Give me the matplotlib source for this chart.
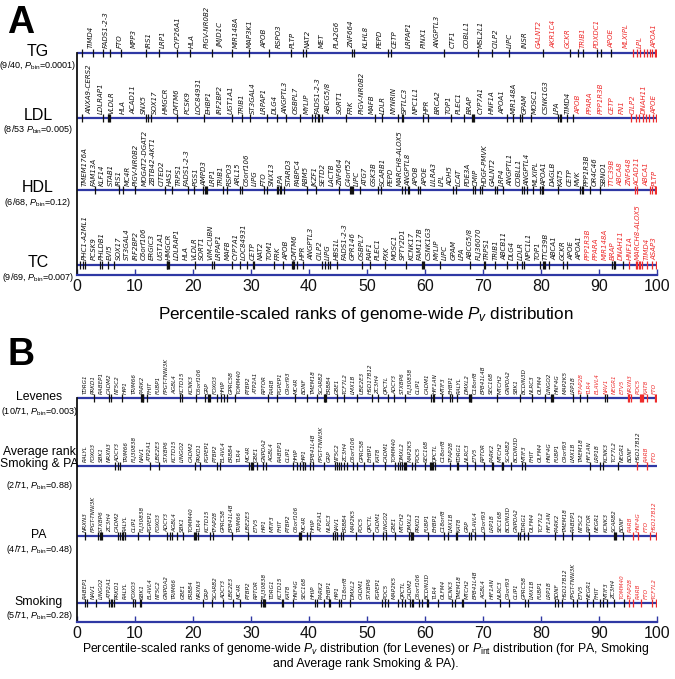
import matplotlib
matplotlib.use('Agg')
import matplotlib.pyplot as plt
import numpy as np

plt.rcParams['mathtext.fontset'] = 'custom'
plt.rcParams['mathtext.rm'] = 'Liberation Sans'
plt.rcParams['mathtext.it'] = 'Liberation Sans:italic'

# ---------------- DATA ----------------
tg_genes = ["TIMD4", "FADS1-2-3", "FTO", "MPP3", "IRS1", "LRP1", "CYP26A1", "HLA", "PIGV-NR0B2", "JMJD1C",
            "MIR148A", "MAP3K1", "APOB", "RSPO3", "PLTP", "NAT2", "MET", "PLA2G6", "ZNF664", "KLHL8",
            "PEPD", "CETP", "LRPAP1", "PINX1", "ANGPTL3", "CTF1", "COBLL1", "MSL2L1", "CILP2", "LIPC",
            "INSR", "GALNT2", "AKR1C4", "GCKR", "TRIB1", "PDXDC1", "APOE", "MLXIPL", "LPL", "APOA1"]
tg_ranks = [0.8, 2.7, 4.5, 5.7, 7.5, 11.9, 14.2, 17.3, 19.4, 23.2, 26.8, 29.7, 33.1, 36.9, 39.0, 39.4,
            47.4, 47.7, 53.7, 54.1, 63.2, 69.2, 71.5, 74.4, 80.3, 85.0, 86.3, 87.3, 89.7, 90.3, 92.0,
            95.9, 96.5, 97.1, 97.7, 98.2, 98.8, 99.2, 99.6, 99.9]

ldl_genes = ["ANXA9-CERS2", "LDLRAP1", "VLDLR", "HLA", "ACAD11", "SNX5", "SOX17", "HMGCR", "CMTM6", "PCSK9",
             "LOC84931", "EHBP1", "IRF2BP2", "UGT1A1", "TRIB1", "ST3GAL4", "LRPAP1", "DLG4", "ANGPTL3", "OSBPL7",
             "MYLIP", "FADS1-2-3", "ABCG5/8", "SORT1", "FRK", "PIGV-NR0B2", "MAFB", "LDLR", "NYNRIN", "SPTLC3",
             "NPC1L1", "HPR", "BRCA2", "TOP1", "PLEC1", "BRAP", "CYP7A1", "HNF1A", "APOA1", "MIR148A",
             "GPAM", "MOSC1", "CSNK1G3", "LPA", "TIMD4", "APOB", "PPARA", "PPP1R3B", "CETP", "FN1",
             "CILP2", "DNAH11", "APOE"]
ldl_ranks = [0.8, 4.4, 5.3, 5.5, 5.7, 11.9, 12.3, 12.8, 17.3, 21.9, 26.8, 28.5, 29.8, 32.8, 34.4, 36.0,
             38.4, 40.6, 41.1, 41.5, 41.8, 42.2, 46.4, 51.3, 52.6, 55.3, 56.0, 56.2, 59.6, 60.6, 64.4,
             66.8, 68.1, 68.2, 68.4, 74.1, 75.1, 76.4, 76.7, 78.3, 83.0, 83.3, 83.5, 84.5, 85.6,
             95.6, 96.3, 96.9, 97.5, 98.1, 98.7, 99.3, 99.8]

hdl_genes = ["TMEM176A", "FAM13A", "KLF14", "STAB1", "IRS1", "MC4R", "PIGV-NR0B2", "MOGAT2-DGAT2", "ZBTB42-AKT1",
             "CITED2", "HAS1", "TRPS1", "FADS1-2-3", "PGS1", "AMPD3", "LRP1", "TRIB1", "RSPO3", "ARL15",
             "C6orf106", "LIPG", "FTO", "SNX13", "LPA", "STARD3", "PABPC4", "RBM5", "IKZF1", "SETD2", "LACTB",
             "ZNF664", "C4orf52", "LIPC", "ATG7", "GSK3B", "SCARB1", "PEPD", "MARCH8-ALOX5", "ANGPTL8", "APOB",
             "APOE", "LILRA3", "LPL", "ADH5", "LCAT", "PDE3A", "CMIP", "HDGF-PMVK", "GALNT2", "LRP4",
             "ANGPTL1", "COBLL1", "ANGPTL4", "MLXIPL", "APOA1", "DAGLB", "KAT5", "CETP", "MVK", "PPP1R3B",
             "OR4C46", "SBNO1", "TTC39B", "ABCA8", "ZNF648", "ACAD11", "ABCA1", "PLTP"]
hdl_ranks = [3.1, 7.3, 7.9, 10.0, 15.2, 16.3, 19.2, 20.2, 21.8, 22.1, 22.2, 22.4, 25.2, 25.8, 28.1, 28.4,
             32.3, 32.7, 34.4, 34.7, 35.0, 35.2, 35.7, 39.7, 41.2, 45.1, 47.1, 47.2, 47.4, 47.6, 48.8,
             51.9, 52.4, 56.0, 56.6, 57.1, 57.3, 58.8, 59.1, 64.9, 65.3, 68.3, 68.6, 69.5, 69.8, 72.1,
             72.4, 73.5, 76.7, 77.0, 77.5, 78.7, 79.8, 80.1, 80.2, 80.4, 83.0, 86.7, 87.0, 87.3, 88.4, 90.2,
             96.2, 96.6, 98.8, 99.1, 99.7, 99.9]

tc_genes = ["PHC1-A2ML1", "PCSK9", "PHLDB1", "EVI5", "SOX17", "ST3GAL4", "IRF2BP2", "C6orf106", "ERGIC3",
            "UGT1A1", "HMGCR", "LDLRAP1", "HLA", "VLDLR", "SORT1", "VIM-CUBN", "LRPAP1", "MAFB", "CYP7A1",
            "LOC84931", "CETP", "NAT2", "TOM1", "FRK", "APOB", "CMTM6", "HPR", "ANGPTL3", "CILP2", "LIPG",
            "HBS1L", "FADS1-2-3", "GPR146", "OSBPL7", "RAF1", "PLEC1", "PXK", "MOSC1", "SPTY2D1", "KCNK17",
            "FAM117B", "CSNK1G3", "MYLIP", "LIPC", "GPAM", "LPA", "ABCG5/8", "FLJ36070", "TRPS1", "TRIB1",
            "ABCB11", "DLG4", "LDLR", "NPC1L1", "TOP1", "TTC39B", "ABCA1", "GCKR", "APOE", "APOA1",
            "PPP1R3B", "PPARA", "MIR148A", "BRAP", "DNAH11", "HNF1A", "MARCH8-ALOX5", "TIMD4", "ASAP3"]
tc_ranks = [0.5, 1.0, 1.4, 4.0, 4.3, 5.4, 6.3, 15.5, 15.6, 15.7, 15.8, 20.3, 23.2, 23.6, 26.7, 28.1,
            29.3, 30.3, 30.5, 34.0, 35.6, 37.0, 37.2, 37.3, 37.4, 37.9, 39.0, 42.2, 42.8, 43.3, 43.6,
            44.8, 49.1, 50.5, 53.1, 56.8, 59.5, 59.6, 59.8, 62.6, 67.8, 70.1, 70.3, 72.1, 74.1, 75.8,
            76.7, 77.1, 79.8, 80.4, 80.5, 80.7, 81.3, 83.8, 84.5, 92.2, 92.5, 92.6, 92.8, 94.2,
            95.1, 96.3, 96.6, 96.9, 97.1, 97.4, 98.3, 99.2, 99.9]

lev_genes = ["TDRG1", "PRKD1", "RABEP1", "CADM2", "NT5C2", "HIP1", "TRIM66", "PARK2", "FHIT", "FUBP1",
             "FPGT-TNNI3K", "AGBL4", "KCTD15", "KCNK3", "C6orf106", "GRP", "FOXO3", "HHIP", "GPRC5B", "TOMM40",
             "PTBP2", "ATP2A1", "RPTOR", "RARB", "PGPEP1", "C9orf93", "MC4R", "BDNF", "TMEM18", "SCARB2",
             "ERBB4", "GBE1", "TCF7L2", "LMX1B", "UBE2E3", "HSD17B12", "ZC3H4", "QPCTL", "ADCY3", "STXBP6",
             "FLJ30838", "CLIP1", "CADM1", "HIF1AN", "MTIF3", "EHBP1", "RALYL", "DMXL2", "C18orf8", "EPB41L4B",
             "SEC16B", "MTCH2", "GNPDA2", "SBK1", "BCDIN3D", "NLRC3", "OLFM4", "LINGO2", "HNF4G", "MAP2K5",
             "LRP1B", "TFAP2B", "TLR4", "ELAVL4", "NAV1", "NEGR1", "ETV5", "NRXN3", "POC5", "KAT8", "FTO"]
lev_ranks = [3.0, 5.6, 5.8, 7.8, 11.0, 11.2, 11.3, 11.4, 12.1, 17.8, 18.1, 20.6, 22.1, 22.5, 22.7, 22.9,
             24.1, 24.9, 25.3, 25.8, 27.2, 33.0, 34.4, 37.6, 39.7, 41.3, 42.5, 42.7, 42.8, 42.9, 44.8,
             46.0, 48.2, 50.8, 51.9, 53.7, 54.7, 56.6, 61.1, 61.3, 61.6, 62.9, 64.3, 64.6, 65.6, 67.6,
             67.8, 67.9, 68.0, 72.4, 76.4, 78.4, 80.7, 81.8, 81.9, 82.1, 85.6, 86.7, 87.9, 91.0, 91.3,
             95.0, 95.2, 95.5, 97.0, 97.2, 97.4, 97.6, 98.3, 99.6, 99.9]

avg_genes = ["RALYL", "FOXO3", "SBK1", "NRXN3", "ADCY3", "TRIM66", "FLJ30838", "NAV1", "ATP2A1", "UBE2E3",
             "STXBP6", "KCTD15", "LINGO2", "CADM2", "PRKD1", "PGPEP1", "PTBP2", "ELAVL4", "ERBB4", "TLR4",
             "MC4R", "GBE1", "GNPDA2", "AGBL4", "RABEP1", "CLIP1", "HHIP", "HIP1", "EPB41L4B", "FPGT-TNNI3K",
             "GRP", "NT5C2", "ZC3H4", "C6orf106", "GPRC5B", "EHBP1", "KAT8", "CADM1", "TOMM40", "DMXL2",
             "MAP2K5", "POC5", "SEC16B", "QPCTL", "C18orf8", "TFAP2B", "TDRG1", "NLRC3", "ETV5", "RPTOR",
             "PARK2", "MTCH2", "SCARB2", "BCDIN3D", "MTIF3", "FHIT", "OLFM4", "HNF4G", "FUBP1", "C9orf93",
             "LMX1B", "TMEM18", "HIF1AN", "LRP1B", "KCNK3", "TCF7L2", "NEGR1", "BDNF", "HSD17B12", "RARB", "FTO"]
avg_ranks = [6.6, 7.0, 7.4, 12.6, 14.2, 20.3, 21.2, 24.1, 24.7, 29.7, 30.0, 30.1, 30.3, 31.1, 32.1, 32.6,
             37.3, 37.9, 38.4, 38.9, 39.0, 39.3, 40.1, 40.7, 42.5, 44.5, 44.8, 45.2, 45.5, 46.0, 46.6,
             47.6, 48.2, 49.4, 51.1, 53.1, 54.8, 55.4, 55.7, 56.0, 56.3, 56.5, 56.8, 57.7, 58.3, 60.0,
             60.9, 61.1, 61.2, 61.4, 61.7, 64.3, 65.6, 65.7, 67.2, 68.6, 70.1, 71.5, 71.8, 73.2, 73.3,
             73.5, 74.9, 76.7, 77.2, 88.4, 90.2, 90.7, 93.3, 96.5, 98.2]

pa_genes = ["NRXN3", "FPGT-TNNI3K", "STXBP6", "ZC3H4", "CADM2", "RALYL", "CLIP1", "FLJ30838", "PGPEP1", "FOXO3",
            "ADCY3", "AGBL4", "SBK1", "TOMM40", "TLR4", "KCTD15", "TFAP2B", "GPRC5B", "EPB41L4B", "TRIM66",
            "UBE2E3", "ETV5", "HIP1", "MTIF3", "FHIT", "PTBP2", "C6orf106", "MC4R", "HHIP", "ATP2A1",
            "NLRC3", "NAV1", "ERBB4", "MAP2K5", "POC5", "QPCTL", "CADM1", "LINGO2", "GBE1", "MTCH2",
            "DMXL2", "PRKD1", "FUBP1", "EHBP1", "C18orf8", "LMX1B", "KAT8", "GRP", "ELAVL4", "C9orf93",
            "LRP1B", "SEC16B", "BCDIN3D", "GNPDA2", "TDRG1", "OLFM4", "TCF7L2", "HIF1AN", "PARK2", "TMEM18",
            "RABEP1", "NT5C2", "RPTOR", "NEGR1", "KCNK3", "SCARB2", "BDNF", "RARB", "HNF4G", "FTO", "HSD17B12"]
pa_ranks = [1.4, 3.7, 4.0, 4.1, 4.3, 7.1, 7.4, 7.7, 7.9, 8.0, 8.3, 10.6, 12.4, 15.6, 16.0, 16.3, 17.2,
            18.2, 20.1, 20.3, 20.5, 20.9, 23.0, 23.4, 26.7, 29.5, 38.2, 38.4, 38.7, 39.7, 40.1, 44.2,
            44.5, 44.8, 45.6, 45.9, 48.1, 51.1, 52.8, 53.3, 54.8, 57.3, 57.5, 57.6, 57.8, 58.0, 60.6,
            63.2, 64.0, 65.3, 65.6, 67.5, 67.9, 68.6, 70.1, 76.1, 76.4, 77.0, 77.8, 82.4, 83.8, 85.3,
            88.2, 92.5, 92.7, 92.9, 94.2, 95.9, 96.8, 98.8, 99.9]

smk_genes = ["RABEP1", "NAV1", "LINGO2", "ATP2A1", "PRKD1", "RALYL", "FOXO3", "SBK1", "ELAVL4", "NT5C2",
             "GNPDA2", "TRIM66", "GBE1", "ERBB4", "NRXN3", "GRP", "SCARB2", "ADCY3", "UBE2E3", "MC4R",
             "PTBP2", "RPTOR", "FLJ30838", "TDRG1", "KCTD15", "KAT8", "HNF4G", "SEC16B", "HHIP", "PARK2",
             "EHBP1", "HIP1", "C18orf8", "DMXL2", "CADM1", "STXBP6", "PGPEP1", "POC5", "MAP2K5", "QPCTL",
             "CADM2", "C6orf106", "BCDIN3D", "TLR4", "OLFM4", "KCNK3", "TMEM18", "MTCH2", "EPB41L4B", "AGBL4",
             "HIF1AN", "NLRC3", "C9orf93", "CLIP1", "GPRC5B", "LMX1B", "FUBP1", "LRP1B", "BDNF", "HSD17B12",
             "FPGT-TNNI3K", "ETV5", "NEGR1", "FHIT", "MTIF3", "ZC3H4", "TOMM40", "TFAP2B", "RARB", "FTO", "TCF7L2"]
smk_ranks = [1.4, 1.7, 3.3, 5.6, 5.8, 6.0, 6.3, 9.7, 10.0, 10.9, 11.1, 21.8, 23.2, 25.1, 26.9, 28.1,
             31.8, 32.0, 32.2, 32.4, 35.3, 35.6, 37.3, 41.0, 41.3, 42.5, 43.5, 43.7, 45.1, 45.5, 47.1,
             52.5, 53.1, 53.7, 55.4, 56.0, 56.6, 57.4, 57.7, 58.0, 59.0, 59.4, 60.3, 60.6, 62.3, 64.6,
             65.2, 66.3, 66.6, 70.3, 72.9, 74.4, 77.2, 77.8, 82.4, 83.0, 83.6, 85.6, 86.2, 87.9, 89.0,
             90.2, 90.7, 91.3, 92.5, 94.3, 95.1, 95.9, 97.3, 99.2, 99.9]

# row names, counts of top-5% genes, totals, P_bin values
a_names = ["TG", "LDL", "HDL", "TC"]
a_top = [9, 8, 6, 9]
a_total = [40, 53, 68, 69]
a_pbin = ["0.0001", "0.005", "0.12", "0.007"]
a_sep = [", ", " ", ", ", ", "]
b_names = ["Levenes", "Average rank\nSmoking & PA", "PA", "Smoking"]
b_top = [10, 2, 4, 5]
b_total = [71, 71, 71, 71]
b_pbin = ["0.003", "0.88", "0.48", "0.28"]
b_sep = [", ", ", ", ", ", ", "]

a_genes = [tg_genes, ldl_genes, hdl_genes, tc_genes]
a_ranks = [tg_ranks, ldl_ranks, hdl_ranks, tc_ranks]
b_genes = [lev_genes, avg_genes, pa_genes, smk_genes]
b_ranks = [lev_ranks, avg_ranks, pa_ranks, smk_ranks]

xticks = list(range(0, 101, 10))

# ---------------- STYLE / LAYOUT ----------------
W, H = 675, 679
BLUE = '#2F38A4'
RED = '#EE2B2B'
BLACK = '#111111'
SANS = 'Liberation Sans'

fig = plt.figure(figsize=(W / 100, H / 100), dpi=100)

X0, X1 = 77, 657


def px_axes(top, bottom):
    ax = fig.add_axes([X0 / W, 1 - bottom / H, (X1 - X0) / W, (bottom - top) / H])
    ax.set_xlim(0, 100)
    ax.set_ylim(bottom, top)
    ax.patch.set_alpha(0)
    for s in ['top', 'right']:
        ax.spines[s].set_visible(False)
    ax.spines['bottom'].set_color(BLUE)
    ax.spines['bottom'].set_linewidth(1.6)
    ax.spines['left'].set_color(BLACK)
    ax.spines['left'].set_linewidth(1.3)
    ax.set_yticks([])
    ax.set_xticks(xticks)
    ax.tick_params(axis='x', direction='in', length=4, width=1, color=BLUE,
                   labelsize=11.5, pad=3, labelcolor=BLACK)
    for lab in ax.get_xticklabels():
        lab.set_fontfamily(SANS)
    return ax


def draw_panel(ax, rows_y, genes_list, ranks_list, tops, starts, fs):
    for y, genes, ranks, ntop, x_start in zip(rows_y, genes_list, ranks_list, tops, starts):
        ax.hlines(y, 0, 100, color=BLUE, lw=1.6, zorder=2)
        n = len(genes)
        colors = [BLACK] * (n - ntop) + [RED] * ntop
        ax.vlines(ranks, y - 4, y + 4, colors=colors, lw=0.9, zorder=3)
        xs = np.linspace(x_start, 99.6, n)
        for xg, g, c in zip(xs, genes, colors):
            ax.text(xg, y - 4.5, g, rotation=90, ha='center', va='bottom',
                    fontsize=fs, style='italic', color=c, family='DejaVu Sans')


def row_titles(names, tops, totals, pbins, seps, rows_y, x, fs_name, fs_sub, name_dy, sub_dy):
    for name, t, tot, p, sep, y in zip(names, tops, totals, pbins, seps, rows_y):
        nl = name.count('\n')
        fig.text(x / W, 1 - (y + name_dy - nl * 7) / H, name, ha='center', va='center',
                 fontsize=fs_name, family=SANS, linespacing=1.1)
        fig.text(x / W, 1 - (y + sub_dy + nl * 7) / H,
                 "(%d/%d%s$P_{\\rm bin}$=%s)" % (t, tot, sep, p),
                 ha='center', va='center', fontsize=fs_sub, family=SANS)


# Panel A
a_rows = [53, 118, 190, 265]
axA = px_axes(0, 275)
axA.spines['left'].set_bounds(275, a_rows[0])
draw_panel(axA, a_rows, a_genes, a_ranks, a_top, [2.4, 2.2, 1.4, 1.4], 5.0)
row_titles(a_names, a_top, a_total, a_pbin, a_sep, a_rows, 38, 11.5, 6.5, -2, 12)
fig.text(366 / W, 1 - 314 / H, "Percentile-scaled ranks of genome-wide $P_v$ distribution",
         ha='center', va='center', fontsize=12.3, family=SANS)
fig.text(7 / W, 1 - 23 / H, "A", ha='left', va='center', fontsize=27, fontweight='bold', family=SANS)

# Panel B
b_rows = [398, 466, 536, 603]
axB = px_axes(340, 622)
axB.spines['left'].set_bounds(622, b_rows[0])
draw_panel(axB, b_rows, b_genes, b_ranks, b_top, [1.4, 1.4, 1.4, 1.4], 4.1)
row_titles(b_names, b_top, b_total, b_pbin, b_sep, b_rows, 39, 8.8, 6.5, -1, 13)
fig.text(366 / W, 1 - 649 / H,
         "Percentile-scaled ranks of genome-wide $P_v$ distribution (for Levenes) or $P_{\\rm int}$ distribution (for PA, Smoking",
         ha='center', va='center', fontsize=8.8, family=SANS)
fig.text(366 / W, 1 - 664 / H, "and Average rank Smoking & PA).",
         ha='center', va='center', fontsize=8.8, family=SANS)
fig.text(7 / W, 1 - 355 / H, "B", ha='left', va='center', fontsize=27, fontweight='bold', family=SANS)

fig.savefig('out.png', dpi=100)
